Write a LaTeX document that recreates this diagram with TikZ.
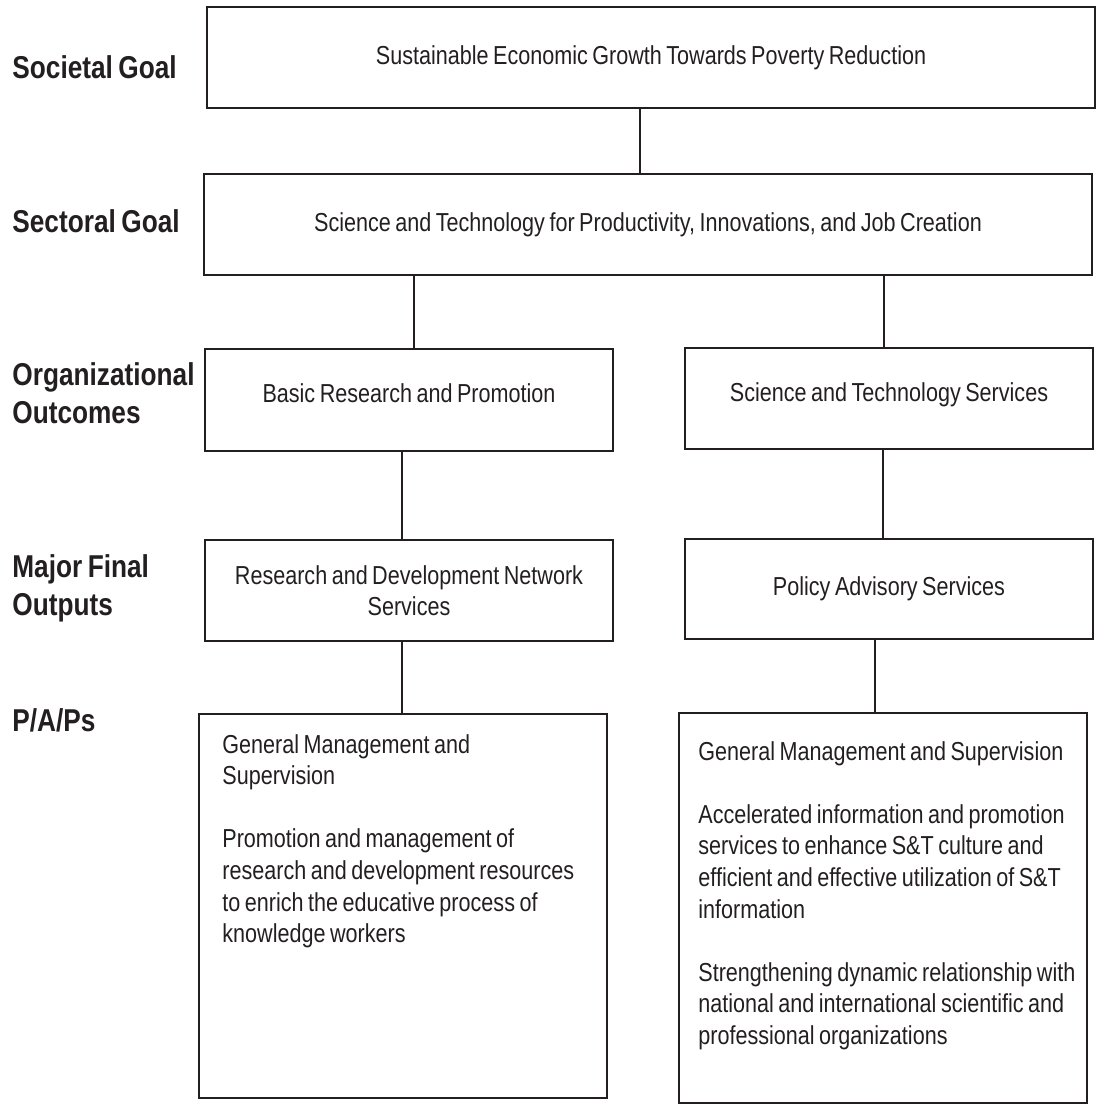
\documentclass[tikz,border=0pt]{standalone}
\usepackage{fontspec}
\setmainfont[FakeStretch=0.83,WordSpace=0.75]{Liberation Sans}
\definecolor{ink}{RGB}{35,31,32}
\begin{document}
\begin{tikzpicture}[x=0.5pt,y=0.5pt,
    box/.style={draw=ink, line width=1.1pt, inner sep=0pt, text=ink, align=center, font=\fontsize{13}{15.8}\selectfont},
    level/.style={anchor=base west, inner sep=0pt, text=ink, align=flush left, text width=110pt, font=\bfseries\fontsize{15.8}{19}\selectfont},
    list/.style={anchor=base west, inner sep=0pt, text=ink, align=flush left, text width=205pt, font=\fontsize{13}{15.8}\selectfont},
    link/.style={draw=ink, line width=1.1pt}]
    \useasboundingbox (0,0) rectangle (1100,-1109);
    % levels
    \node[level] (lsoc) at (12,-78) {Societal Goal};
    \node[level] (lsect) at (12,-232) {Sectoral Goal};
    \node[level] (lorg) at (12,-385) {Organizational\\Outcomes};
    \node[level] (lmfo) at (12,-577) {Major Final\\Outputs};
    \node[level] (lpap) at (12,-731) {P/A/Ps};
    % goals
    \node[box, minimum width=444pt, minimum height=50.5pt] (soc) at (651,-57.5)
        {Sustainable Economic Growth Towards Poverty Reduction};
    \node[box, minimum width=444pt, minimum height=50.5pt] (sect) at (648,-224.5)
        {Science and Technology for Productivity, Innovations, and Job Creation};
    % outcomes
    \node[box, minimum width=204pt, minimum height=51pt, text depth=7pt] (org1) at (409,-400)
        {Basic Research and Promotion};
    \node[box, minimum width=204pt, minimum height=50.5pt, text depth=6pt] (org2) at (889,-398.5)
        {Science and Technology Services};
    % outputs
    \node[box, minimum width=204pt, minimum height=50.5pt] (mfo1) at (409,-590.5)
        {Research and Development Network\\Services};
    \node[box, minimum width=204pt, minimum height=50pt] (mfo2) at (889,-589)
        {Policy Advisory Services};
    % P/A/Ps
    \node[box, minimum width=204pt, minimum height=192pt] (pap1) at (403,-906) {};
    \node[box, minimum width=204pt, minimum height=195pt] (pap2) at (883,-908) {};
    \node[list] (pap1txt) at (222,-753)
        {General Management and\\Supervision\\[15.8pt]
         Promotion and management of\\research and development resources\\to enrich the educative process of\\knowledge workers};
    \node[list] (pap2txt) at (698,-760)
        {General Management and Supervision\\[15.8pt]
         Accelerated information and promotion\\services to enhance S\&T culture and\\efficient and effective utilization of S\&T\\information\\[15.8pt]
         Strengthening dynamic relationship with\\national and international scientific and\\professional organizations};
    % links
    \draw[link] ([xshift=-5.5pt]soc.south) -- ([xshift=-5.5pt]soc.south |- sect.north);
    \draw[link] ([xshift=2.5pt]org1.north) -- ([xshift=2.5pt]org1.north |- sect.south);
    \draw[link] ([xshift=-2.5pt]org2.north) -- ([xshift=-2.5pt]org2.north |- sect.south);
    \draw[link] ([xshift=-3.5pt]org1.south) -- ([xshift=-3.5pt]org1.south |- mfo1.north);
    \draw[link] ([xshift=-3pt]org2.south) -- ([xshift=-3pt]org2.south |- mfo2.north);
    \draw[link] ([xshift=-3.5pt]mfo1.south) -- ([xshift=-3.5pt]mfo1.south |- pap1.north);
    \draw[link] ([xshift=-4pt]pap2.north) -- ([xshift=-4pt]pap2.north |- mfo2.south);
\end{tikzpicture}
\end{document}
